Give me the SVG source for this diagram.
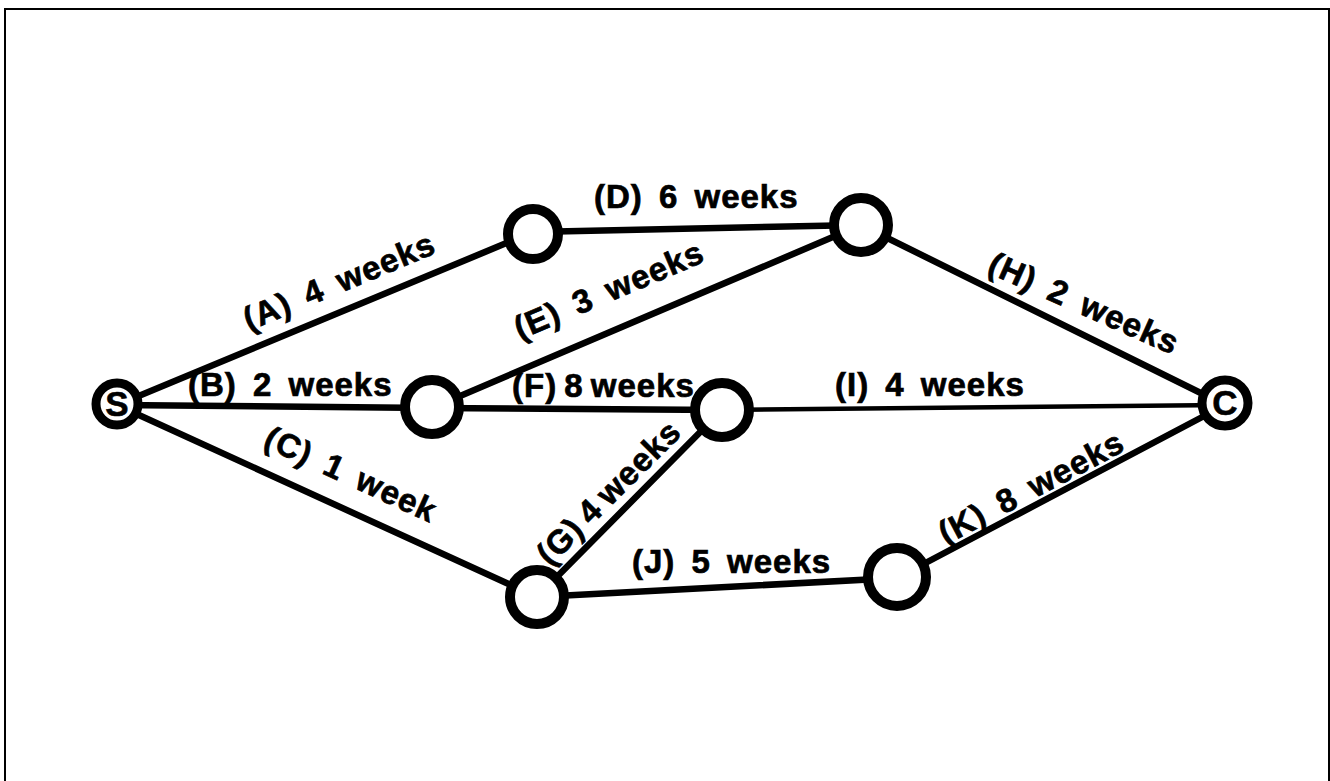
<svg xmlns="http://www.w3.org/2000/svg" width="1330" height="781" viewBox="0 0 1330 781">
  <style>
    .edge { stroke: #000; stroke-width: 6.5; stroke-linecap: round; fill: none; }
    .thin { stroke-width: 4.5; }
    .node { fill: #fff; stroke: #000; stroke-width: 10; }
    .end { stroke-width: 9; }
    .lbl { font-family: "Liberation Sans", Arial, sans-serif; font-weight: bold; font-size: 33px; fill: #000; stroke: #000; stroke-width: 0.7; letter-spacing: 1px; word-spacing: 6px; }
    .term { font-family: "Liberation Sans", Arial, sans-serif; font-weight: bold; font-size: 35px; fill: #000; stroke: #000; stroke-width: 0.6; text-anchor: middle; }
  </style>
  <rect width="1330" height="781" fill="#fff"/>
  <rect x="5" y="9" width="1324" height="800" fill="none" stroke="#000" stroke-width="2"/>

  <g id="connectors">
    <line class="edge" x1="117" y1="405" x2="533" y2="232"/>
    <line class="edge" x1="533" y1="232" x2="861" y2="225"/>
    <line class="edge" x1="117" y1="405" x2="432" y2="408"/>
    <line class="edge" x1="432" y1="408" x2="861" y2="225"/>
    <line class="edge" x1="432" y1="408" x2="722" y2="410"/>
    <line class="edge thin" x1="722" y1="410" x2="1225" y2="405"/>
    <line class="edge" x1="861" y1="225" x2="1225" y2="405"/>
    <line class="edge" x1="117" y1="405" x2="537" y2="597"/>
    <line class="edge" x1="537" y1="597" x2="722" y2="410"/>
    <line class="edge" x1="537" y1="597" x2="897" y2="578"/>
    <line class="edge" x1="897" y1="578" x2="1225" y2="405"/>
  </g>

  <g id="labels">
    <text class="lbl" transform="translate(249,331) rotate(-22.6)">(A) 4 weeks</text>
    <text class="lbl" x="594" y="208">(D) 6 weeks</text>
    <text class="lbl" transform="translate(520,340) rotate(-23)">(E) 3 weeks</text>
    <text class="lbl" transform="translate(986,272) rotate(24)">(H) 2 weeks</text>
    <text class="lbl" x="188" y="396">(B) 2 weeks</text>
    <text class="lbl" x="512" y="397" style="word-spacing:-3px">(F) 8 weeks</text>
    <text class="lbl" x="835" y="396">(I) 4 weeks</text>
    <text class="lbl" transform="translate(262,446) rotate(24.6)">(C) 1 week</text>
    <text class="lbl" transform="translate(550,567) rotate(-45)" style="word-spacing:-3px">(G) 4 weeks</text>
    <text class="lbl" x="632" y="573">(J) 5 weeks</text>
    <text class="lbl" transform="translate(946,545) rotate(-27.8)">(K) 8 weeks</text>
  </g>

  <g id="node-S">
    <circle class="node end" cx="117" cy="404" r="21"/>
    <text class="term" x="117" y="416">S</text>
  </g>
  <g id="node-1">
    <circle class="node" cx="533" cy="234" r="25"/>
  </g>
  <g id="node-2">
    <circle class="node" cx="861" cy="225" r="27"/>
  </g>
  <g id="node-3">
    <circle class="node" cx="432" cy="407" r="27"/>
  </g>
  <g id="node-4">
    <circle class="node" cx="722" cy="410" r="27"/>
  </g>
  <g id="node-C">
    <circle class="node end" cx="1225" cy="403" r="23"/>
    <text class="term" x="1225" y="415">C</text>
  </g>
  <g id="node-5">
    <circle class="node" cx="537" cy="597" r="27"/>
  </g>
  <g id="node-6">
    <circle class="node" cx="897" cy="577" r="29"/>
  </g>
</svg>
